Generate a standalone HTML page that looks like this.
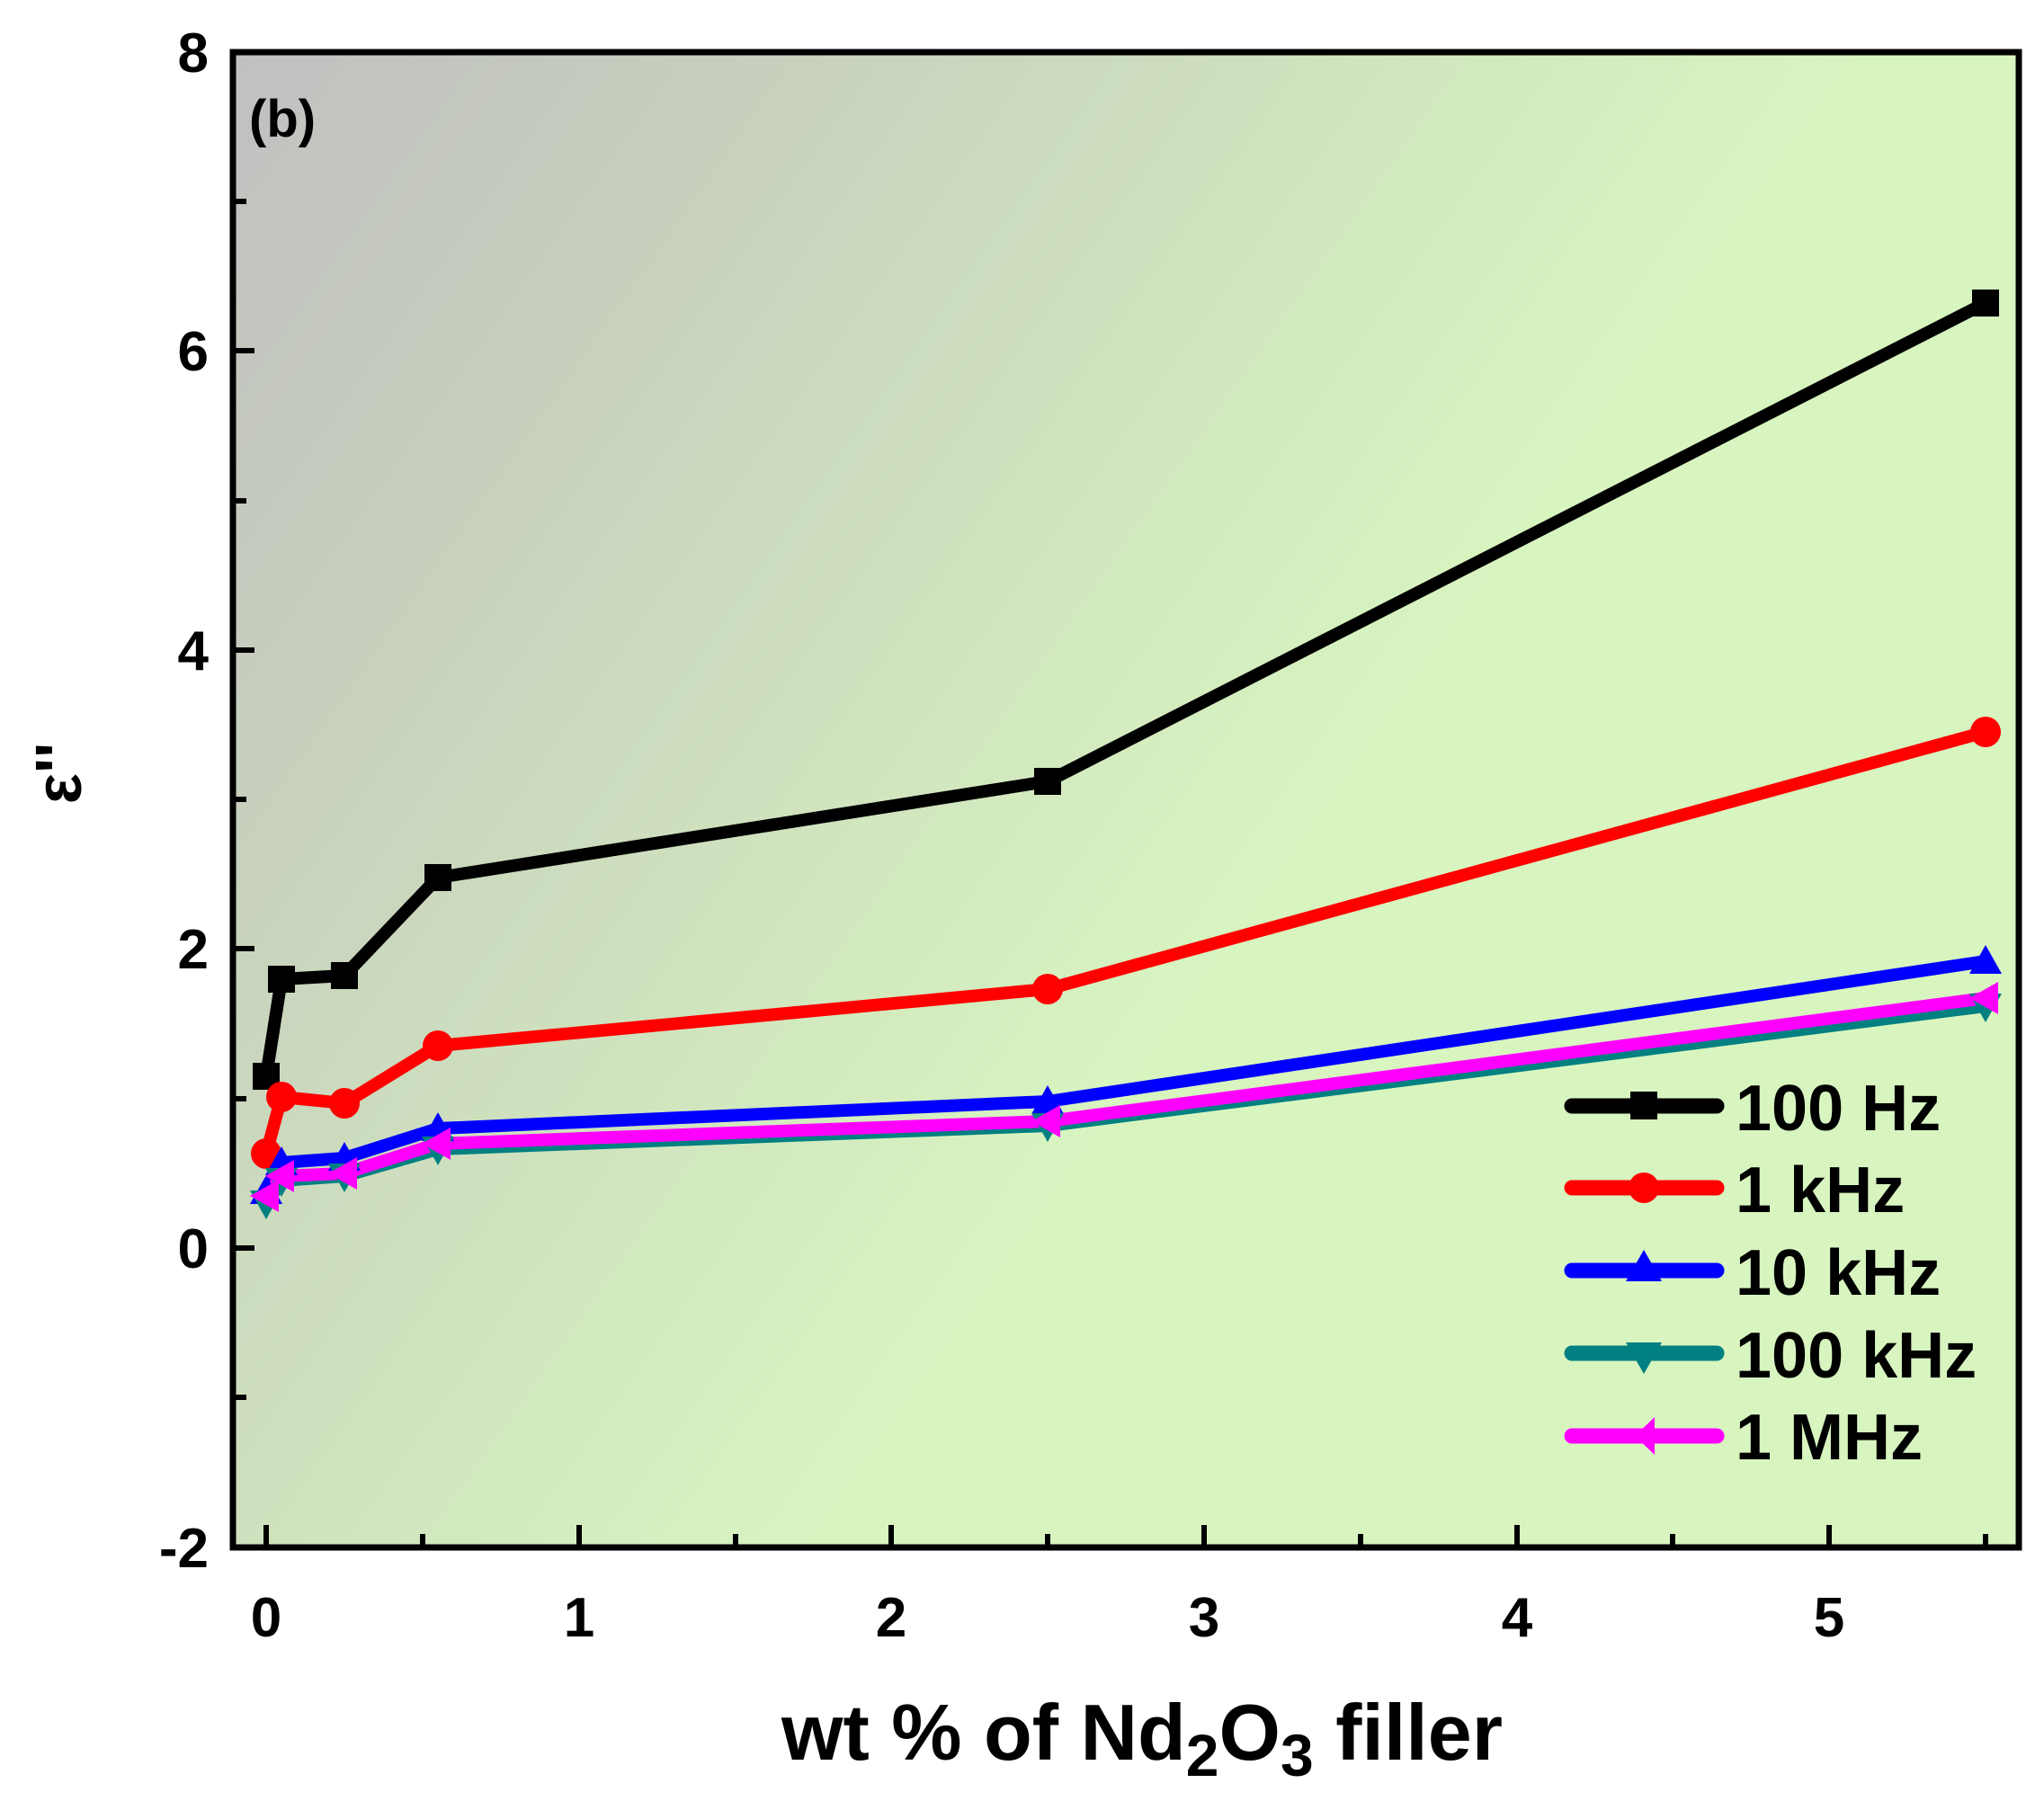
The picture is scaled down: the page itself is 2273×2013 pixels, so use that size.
<!DOCTYPE html>
<html><head><meta charset="utf-8"><style>html,body{margin:0;padding:0;background:#fff}</style></head>
<body>
<svg width="2273" height="2008" viewBox="0 0 2273 2008" xmlns="http://www.w3.org/2000/svg" font-family="Liberation Sans, Arial, sans-serif" font-weight="bold">
<defs>
<linearGradient id="bg" x1="0" y1="0" x2="0.85" y2="0.5">
<stop offset="0" stop-color="#c0c0c0"/>
<stop offset="0.3" stop-color="#c8d2bd"/>
<stop offset="0.8" stop-color="#d8f5c0"/>
</linearGradient>
</defs>
<rect x="259" y="58" width="1986" height="1663" fill="#d8f5c0"/>
<rect x="259" y="58" width="1986" height="1663" fill="url(#bg)"/>
<g stroke="#000" stroke-width="6">
<line x1="259" y1="58" x2="283" y2="58"/><line x1="259" y1="224" x2="274" y2="224"/>
<line x1="259" y1="390" x2="283" y2="390"/><line x1="259" y1="557" x2="274" y2="557"/>
<line x1="259" y1="723" x2="283" y2="723"/><line x1="259" y1="889" x2="274" y2="889"/>
<line x1="259" y1="1055" x2="283" y2="1055"/><line x1="259" y1="1222" x2="274" y2="1222"/>
<line x1="259" y1="1388" x2="283" y2="1388"/><line x1="259" y1="1554" x2="274" y2="1554"/>
<line x1="296" y1="1721" x2="296" y2="1696"/><line x1="470" y1="1721" x2="470" y2="1706"/>
<line x1="644" y1="1721" x2="644" y2="1696"/><line x1="818" y1="1721" x2="818" y2="1706"/>
<line x1="991" y1="1721" x2="991" y2="1696"/><line x1="1165" y1="1721" x2="1165" y2="1706"/>
<line x1="1339" y1="1721" x2="1339" y2="1696"/><line x1="1513" y1="1721" x2="1513" y2="1706"/>
<line x1="1687" y1="1721" x2="1687" y2="1696"/><line x1="1860" y1="1721" x2="1860" y2="1706"/>
<line x1="2034" y1="1721" x2="2034" y2="1696"/><line x1="2208" y1="1721" x2="2208" y2="1706"/>
</g>
<rect x="259" y="58" width="1986" height="1663" fill="none" stroke="#000" stroke-width="7"/>
<g font-size="62" text-anchor="end" font-family="Liberation Sans Narrow, Liberation Sans, sans-serif">
<text x="232" y="80">8</text><text x="232" y="412">6</text><text x="232" y="745">4</text>
<text x="232" y="1077">2</text><text x="232" y="1410">0</text><text x="232" y="1743">-2</text>
</g>
<g font-size="62" text-anchor="middle" font-family="Liberation Sans Narrow, Liberation Sans, sans-serif">
<text x="296" y="1820">0</text><text x="644" y="1820">1</text><text x="991" y="1820">2</text>
<text x="1339" y="1820">3</text><text x="1687" y="1820">4</text><text x="2034" y="1820">5</text>
</g>
<text x="277" y="152" font-size="58">(b)</text>
<text x="1270" y="1957" font-size="88" text-anchor="middle">wt % of Nd<tspan font-size="66" dy="18">2</tspan><tspan dy="-18">O</tspan><tspan font-size="66" dy="18">3</tspan><tspan dy="-18"> filler</tspan></text>
<text transform="translate(90,860) rotate(-90)" font-size="72" text-anchor="middle">ε''</text>
<g fill="none" stroke-width="14" stroke-linejoin="round" stroke-linecap="round">
<polyline stroke="#000" points="296,1197 313,1089 383,1085 487,976 1165,869 2208,337"/>
<polyline stroke="#f00" points="296,1283 313,1220 383,1227 487,1163 1165,1100 2208,814"/>
<polyline stroke="#00f" points="296,1325 313,1293 383,1288 487,1255 1165,1225 2208,1069"/>
<polyline stroke="#008080" points="296,1338 313,1313 383,1308 487,1278 1165,1252 2208,1119"/>
<polyline stroke="#f0f" points="296,1330 313,1308 383,1305 487,1272 1165,1247 2208,1110"/>
</g>
<g fill="#000">
<rect x="281" y="1182" width="30" height="30"/><rect x="298" y="1074" width="30" height="30"/>
<rect x="368" y="1070" width="30" height="30"/><rect x="472" y="961" width="30" height="30"/>
<rect x="1150" y="854" width="30" height="30"/><rect x="2193" y="322" width="30" height="30"/>
</g>
<g fill="#f00">
<circle cx="296" cy="1283" r="17"/><circle cx="313" cy="1220" r="17"/><circle cx="383" cy="1227" r="17"/>
<circle cx="487" cy="1163" r="17"/><circle cx="1165" cy="1100" r="17"/><circle cx="2208" cy="814" r="17"/>
</g>
<g fill="#00f">
<path d="M296,1307 l18,32 h-36z"/><path d="M313,1275 l18,32 h-36z"/><path d="M383,1270 l18,32 h-36z"/>
<path d="M487,1237 l18,32 h-36z"/><path d="M1165,1207 l18,32 h-36z"/><path d="M2208,1051 l18,32 h-36z"/>
</g>
<g fill="#008080">
<path d="M296,1356 l18,-32 h-36z"/><path d="M313,1331 l18,-32 h-36z"/><path d="M383,1326 l18,-32 h-36z"/>
<path d="M487,1296 l18,-32 h-36z"/><path d="M1165,1270 l18,-32 h-36z"/><path d="M2208,1137 l18,-32 h-36z"/>
</g>
<g fill="#f0f">
<path d="M278,1330 l32,-18 v36z"/><path d="M295,1308 l32,-18 v36z"/><path d="M365,1305 l32,-18 v36z"/>
<path d="M469,1272 l32,-18 v36z"/><path d="M1147,1247 l32,-18 v36z"/><path d="M2190,1110 l32,-18 v36z"/>
</g>
<g stroke-width="17" stroke-linecap="round">
<line x1="1748" y1="1230" x2="1909" y2="1230" stroke="#000"/>
<line x1="1748" y1="1321" x2="1909" y2="1321" stroke="#f00"/>
<line x1="1748" y1="1413" x2="1909" y2="1413" stroke="#00f"/>
<line x1="1748" y1="1505" x2="1909" y2="1505" stroke="#008080"/>
<line x1="1748" y1="1597" x2="1909" y2="1597" stroke="#f0f"/>
</g>
<rect x="1813" y="1214" width="30" height="31" fill="#000"/>
<circle cx="1828" cy="1321" r="17" fill="#f00"/>
<path d="M1828,1390 l20,35 h-40z" fill="#00f"/>
<path d="M1828,1528 l20,-35 h-40z" fill="#008080"/>
<path d="M1818,1597 l22,-21 v42z" fill="#f0f"/>
<g font-size="72">
<text x="1930" y="1257">100 Hz</text><text x="1930" y="1348">1 kHz</text>
<text x="1930" y="1440">10 kHz</text><text x="1930" y="1532">100 kHz</text>
<text x="1930" y="1623">1 MHz</text>
</g>
</svg>
</body></html>
